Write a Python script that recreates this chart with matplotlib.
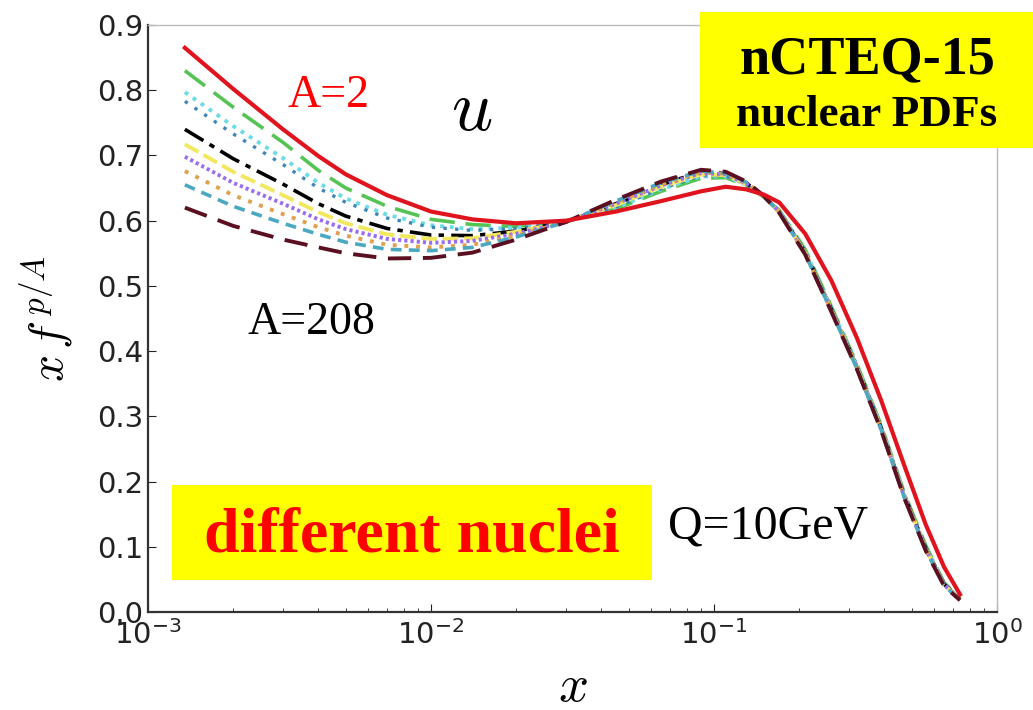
import numpy as np
import matplotlib
matplotlib.use("Agg")
import matplotlib.pyplot as plt
from matplotlib.patches import Rectangle

# x grid shared by all curves
x = [0.00135, 0.002, 0.003, 0.004, 0.005, 0.007, 0.01, 0.014, 0.02, 0.03,
     0.045, 0.065, 0.09, 0.11, 0.13, 0.15, 0.17, 0.21, 0.26, 0.32,
     0.39, 0.47, 0.56, 0.65, 0.74]

# x f^{p/A}, one list per nucleus
u_A2 = [0.865, 0.802, 0.740, 0.699, 0.671, 0.639, 0.614, 0.602, 0.596, 0.600,
        0.614, 0.630, 0.645, 0.652, 0.648, 0.640, 0.628, 0.580, 0.508, 0.420,
        0.324, 0.225, 0.134, 0.069, 0.027]
u_A4 = [0.830, 0.774, 0.720, 0.677, 0.650, 0.622, 0.602, 0.594, 0.591, 0.600,
        0.618, 0.645, 0.665, 0.666, 0.654, 0.636, 0.616, 0.556, 0.468, 0.380,
        0.286, 0.183, 0.102, 0.045, 0.021]
u_A9 = [0.797, 0.745, 0.696, 0.658, 0.634, 0.609, 0.593, 0.587, 0.589, 0.599,
        0.620, 0.648, 0.668, 0.668, 0.655, 0.636, 0.615, 0.554, 0.466, 0.378,
        0.284, 0.181, 0.100, 0.044, 0.020]
u_A12 = [0.783, 0.733, 0.686, 0.650, 0.628, 0.604, 0.590, 0.585, 0.588, 0.598,
         0.621, 0.649, 0.669, 0.669, 0.655, 0.636, 0.615, 0.553, 0.465, 0.377,
         0.283, 0.180, 0.099, 0.043, 0.020]
u_A27 = [0.740, 0.695, 0.656, 0.626, 0.607, 0.588, 0.578, 0.577, 0.584, 0.598,
         0.626, 0.655, 0.675, 0.673, 0.658, 0.637, 0.614, 0.552, 0.464, 0.376,
         0.282, 0.179, 0.098, 0.043, 0.020]
u_A40 = [0.717, 0.675, 0.639, 0.613, 0.596, 0.579, 0.572, 0.573, 0.583, 0.598,
         0.624, 0.652, 0.671, 0.670, 0.656, 0.636, 0.614, 0.551, 0.463, 0.375,
         0.281, 0.178, 0.097, 0.042, 0.019]
u_A56 = [0.698, 0.658, 0.626, 0.602, 0.587, 0.572, 0.566, 0.569, 0.580, 0.598,
         0.626, 0.654, 0.673, 0.671, 0.657, 0.637, 0.614, 0.550, 0.462, 0.374,
         0.280, 0.177, 0.096, 0.042, 0.019]
u_A108 = [0.676, 0.639, 0.610, 0.590, 0.577, 0.563, 0.559, 0.563, 0.577, 0.598,
          0.628, 0.656, 0.674, 0.672, 0.658, 0.637, 0.613, 0.550, 0.462, 0.374,
          0.280, 0.177, 0.096, 0.041, 0.019]
u_A197 = [0.655, 0.622, 0.596, 0.579, 0.567, 0.556, 0.554, 0.559, 0.575, 0.598,
          0.630, 0.658, 0.676, 0.673, 0.659, 0.638, 0.613, 0.549, 0.461, 0.373,
          0.279, 0.176, 0.095, 0.041, 0.018]
u_A208 = [0.620, 0.592, 0.571, 0.559, 0.550, 0.542, 0.543, 0.551, 0.571, 0.598,
          0.632, 0.660, 0.678, 0.675, 0.660, 0.638, 0.612, 0.548, 0.460, 0.372,
          0.278, 0.175, 0.094, 0.040, 0.018]

W, H = 1033, 710
fig = plt.figure(figsize=(W / 100, H / 100), dpi=100)
ax = fig.add_axes([148 / W, 1 - 612 / H, (997 - 148) / W, (612 - 25) / H])

ax.plot(x, u_A4, color='#55c455', lw=2.6, dashes=(7, 3))
ax.plot(x, u_A9, color='#6ddbe8', lw=2.8, dashes=(1, 1.5))
ax.plot(x, u_A12, color='#3f86b8', lw=2.4, dashes=(1, 2.5))
ax.plot(x, u_A27, color='black', lw=2.6, dashes=(6, 2, 1.5, 2))
ax.plot(x, u_A40, color='#f2e860', lw=2.8, dashes=(4, 1.5))
ax.plot(x, u_A56, color='#9a6cf0', lw=2.8, dashes=(0.8, 0.8))
ax.plot(x, u_A108, color='#e0a050', lw=2.8, dashes=(1, 2))
ax.plot(x, u_A197, color='#4aa8c0', lw=2.6, dashes=(3, 2))
ax.plot(x, u_A208, color='#5a1020', lw=2.8, dashes=(6, 3))
ax.plot(x, u_A2, color='#e0141e', lw=3.0, zorder=5)

ax.set_xscale('log')
ax.set_xlim(1e-3, 1)
ax.set_ylim(0, 0.9)
ax.set_yticks(np.arange(0, 0.91, 0.1))
ax.yaxis.set_major_formatter(plt.FormatStrFormatter('%.1f'))
ax.tick_params(which='both', direction='in', labelsize=21, colors='#222222')
ax.tick_params(which='major', length=6)
ax.tick_params(which='minor', length=3)
ax.tick_params(axis='x', pad=6)
for s in ['left', 'bottom']:
    ax.spines[s].set_linewidth(1.6)
    ax.spines[s].set_color('#333333')
for s in ['top', 'right']:
    ax.spines[s].set_linewidth(1.0)
    ax.spines[s].set_color('#bbbbbb')

ax.set_xlabel(r'$x$', fontsize=38, math_fontfamily='cm', labelpad=7)
ax.set_ylabel(r'$x\,f^{\,p/A}$', fontsize=34, math_fontfamily='cm', labelpad=16)


def fx(px):
    return px / W


def fy(py):
    return 1 - py / H


serif = 'Liberation Serif'
fig.text(fx(287), fy(107), 'A=2', color='red', fontsize=33, family=serif, va='baseline')
fig.text(fx(248), fy(334), 'A=208', color='black', fontsize=33, family=serif, va='baseline')
fig.text(fx(472), fy(130), r'$u$', fontsize=52, math_fontfamily='cm', ha='center', va='baseline')
fig.text(fx(668), fy(538), 'Q=10GeV', color='black', fontsize=34.5, family=serif, va='baseline')

fig.patches.append(Rectangle((fx(700), fy(148)), fx(1033) - fx(700), fy(12) - fy(148),
                             transform=fig.transFigure, facecolor='#ffff00', edgecolor='none', zorder=2))
fig.text(fx(867), fy(73), 'nCTEQ-15', fontsize=39, family=serif, weight='bold', ha='center', va='baseline', zorder=3)
fig.text(fx(867), fy(126), 'nuclear PDFs', fontsize=32.5, family=serif, weight='bold', ha='center', va='baseline', zorder=3)

fig.patches.append(Rectangle((fx(172), fy(580)), fx(652) - fx(172), fy(485) - fy(580),
                             transform=fig.transFigure, facecolor='#ffff00', edgecolor='none', zorder=2))
fig.text(fx(412), fy(552), 'different nuclei', color='red', fontsize=46, family=serif, weight='bold',
         ha='center', va='baseline', zorder=3)

fig.savefig('out.png', dpi=100)
